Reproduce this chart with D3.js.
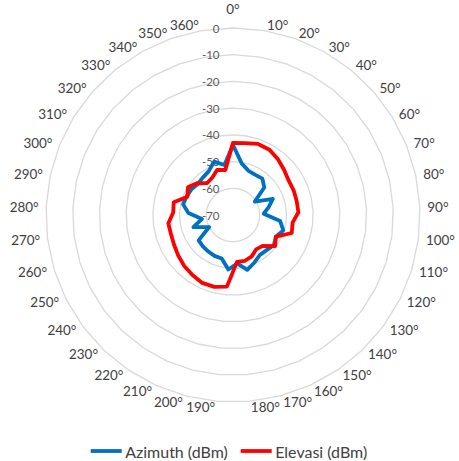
<!DOCTYPE html>
<html><head><meta charset="utf-8">
<script src="https://cdn.jsdelivr.net/npm/d3@7"></script>
<style>html,body{margin:0;padding:0;background:#fff;}svg{display:block;}</style>
</head><body>
<svg id="chart" width="459" height="461"></svg>
<script>
const categories = ["0°","10°","20°","30°","40°","50°","60°","70°","80°","90°","100°","110°","120°","130°","140°","150°","160°","170°","180°","190°","200°","210°","220°","230°","240°","250°","260°","270°","280°","290°","300°","310°","320°","330°","340°","350°","360°"];
const azimuth = [-43.8,-50.5,-52.5,-52.8,-52.5,-54.4,-60.4,-53.9,-56.4,-58.5,-52.2,-50.3,-52,-51,-51.8,-52,-50.5,-48.8,-51.8,-49.5,-53.2,-53.2,-53.5,-53.7,-54,-60,-54.5,-58.3,-53.3,-50.9,-51.3,-51.7,-52.4,-52,-51.3,-48.8,-51];
const elevasi = [-43,-42.7,-41.8,-42,-43.2,-44.5,-45.5,-45.5,-45.6,-45.5,-47.5,-47,-52,-50.4,-54,-54.5,-53,-52.3,-52.4,-43.1,-42.2,-42.1,-42.9,-43.6,-44.5,-45.3,-45.7,-45.6,-47.6,-47.3,-51.6,-50.2,-52,-54.6,-54,-52.1,-52.9];
const ringTicks = [0,-10,-20,-30,-40,-50,-60,-70];
const seriesNames = ["Azimuth (dBm)","Elevasi (dBm)"];
const seriesColors = ["#0070C0","#FF0000"];

const svg = d3.select("#chart");
const cx = 233, cy = 215, R = 187;
const n = categories.length;
const r = d3.scaleLinear().domain([-70, 0]).range([0, R]);
const ang = d3.scaleLinear().domain([0, n]).range([0, 2 * Math.PI]);
const g = svg.append("g").attr("transform", `translate(${cx},${cy})`);
const font = "Lato, 'Open Sans', sans-serif";

function fitSize(text, target, base) {
  const t = svg.append("text").attr("font-family", font).attr("font-size", base).text(text);
  const w = t.node().getComputedTextLength();
  t.remove();
  return w > 0 ? base * target / w : base;
}
const catSize = fitSize("100°", 29, 14);
const ringSize = fitSize("-10", 17.6, 12);
const legSize = fitSize("Azimuth (dBm)", 102.7, 15);

// grid polygons
const gridLine = d3.lineRadial().angle((d, i) => ang(i)).radius(d => r(d)).curve(d3.curveLinearClosed);
ringTicks.filter(t => t > -70).forEach(t => {
  g.append("path").attr("d", gridLine(categories.map(() => t)))
    .attr("fill", "none").attr("stroke", "#d9d9d9").attr("stroke-width", 1.3);
});

// ring labels
g.selectAll("text.ring").data(ringTicks).join("text")
  .attr("class", "ring")
  .attr("x", -13.5).attr("y", d => -r(d))
  .attr("text-anchor", "end").attr("dominant-baseline", "central")
  .attr("font-family", font).attr("font-size", ringSize).attr("fill", "#595959")
  .text(d => d);

// series
const line = d3.lineRadial().angle((d, i) => ang(i)).radius(d => r(d)).curve(d3.curveLinearClosed);
[azimuth, elevasi].forEach((s, k) => {
  g.append("path").attr("d", line(s)).attr("fill", "none")
    .attr("stroke", seriesColors[k]).attr("stroke-width", 3.8).attr("stroke-linejoin", "round");
});

// category labels
const LR = 193;
g.selectAll("text.cat").data(categories).join("text")
  .attr("class", "cat")
  .each(function(d, i) {
    const a = ang(i), s = Math.sin(a), c = Math.cos(a);
    const sel = d3.select(this);
    let x = LR * s, y = -LR * c, anchor;
    if (i === 0) { anchor = "middle"; y = -206; }
    else if (s > 0) { anchor = "start"; x += 1.5; }
    else { anchor = "end"; x -= 1.5; }
    sel.attr("x", x).attr("y", y).attr("text-anchor", anchor);
  })
  .attr("dominant-baseline", "central")
  .attr("font-family", font).attr("font-size", catSize).attr("fill", "#404040")
  .text(d => d);

// legend
const leg = svg.append("g");
const legX = [90.7, 240.7];
seriesNames.forEach((name, k) => {
  leg.append("line").attr("x1", legX[k]).attr("x2", legX[k] + 31).attr("y1", 451).attr("y2", 451)
    .attr("stroke", seriesColors[k]).attr("stroke-width", 3.8);
  leg.append("text").attr("x", legX[k] + 34.5).attr("y", 451).attr("dominant-baseline", "central")
    .attr("font-family", font).attr("font-size", legSize).attr("fill", "#404040").text(name);
});
</script>
</body></html>
